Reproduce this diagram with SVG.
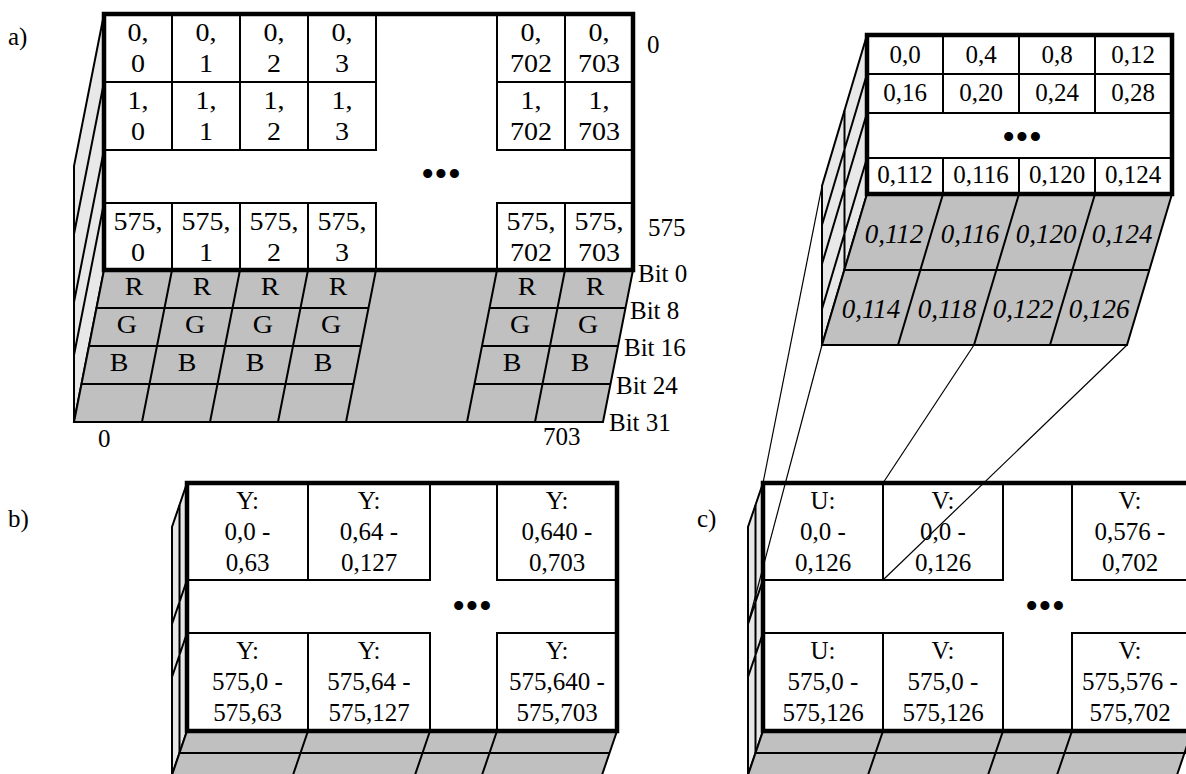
<svg xmlns="http://www.w3.org/2000/svg" width="1186" height="774" viewBox="0 0 1186 774">
<style>
.t{font-family:"Liberation Serif","Times New Roman",serif;font-size:25px;text-anchor:middle;fill:#000}
.it{font-style:italic;font-size:27px}
.st{text-anchor:start}
.sx{transform-box:fill-box;transform-origin:center;transform:scaleX(1.12)}
.dots{font-size:38px}
.cell{fill:#fff;stroke:#000;stroke-width:2}
.frame{fill:none;stroke:#000;stroke-width:4.5}
.gray{fill:#c0c0c0;stroke:#000;stroke-width:2;stroke-linejoin:miter}
.side{fill:#e8e8e8;stroke:#000;stroke-width:2}
.ln{stroke:#000;stroke-width:2;fill:none}
.thin{stroke:#000;stroke-width:1.2;fill:none}
</style>
<rect width="1186" height="774" fill="#fff"/>

<!-- Labels -->
<g id="labels">
<text class="t st" x="8" y="45">a)</text>
<text class="t st" x="8" y="527">b)</text>
<text class="t st" x="697" y="527">c)</text>
<text class="t st" x="647" y="53">0</text>
<text class="t st" x="648" y="236">575</text>
<text class="t st" x="638" y="282">Bit 0</text>
<text class="t st" x="630" y="319">Bit 8</text>
<text class="t st" x="624" y="356">Bit 16</text>
<text class="t st" x="616" y="394">Bit 24</text>
<text class="t st" x="609" y="431">Bit 31</text>
<text class="t st" x="98" y="447">0</text>
<text class="t st" x="543" y="445">703</text>
</g>

<!-- Panel a -->
<g id="panel-a">
<g id="a-side">
<polygon class="side" points="104,14 104,270 74,422 74,166"/>
<path class="ln" d="M104,82 L74,234 M104,150 L74,302 M104,203 L74,355"/>
</g>
<g id="a-bottom">
<polygon class="gray" points="104,270 633,270 603,422 74,422"/>
<path class="ln" d="M172,270 L142,422 M240,270 L210,422 M308,270 L278,422 M376,270 L346,422 M497,270 L467,422 M565,270 L535,422"/>
<path class="ln" d="M96.5,308 L368.5,308 M89,346 L361,346 M81.5,384 L353.5,384 M489.5,308 L625.5,308 M482,346 L618,346 M474.5,384 L610.5,384"/>
<g class="rgb">
<text class="t sx" x="134" y="295">R</text><text class="t sx" x="202" y="295">R</text><text class="t sx" x="270" y="295">R</text><text class="t sx" x="338" y="295">R</text><text class="t sx" x="527" y="295">R</text><text class="t sx" x="595" y="295">R</text>
<text class="t sx" x="127" y="333">G</text><text class="t sx" x="195" y="333">G</text><text class="t sx" x="263" y="333">G</text><text class="t sx" x="331" y="333">G</text><text class="t sx" x="520" y="333">G</text><text class="t sx" x="588" y="333">G</text>
<text class="t sx" x="119" y="371">B</text><text class="t sx" x="187" y="371">B</text><text class="t sx" x="255" y="371">B</text><text class="t sx" x="323" y="371">B</text><text class="t sx" x="512" y="371">B</text><text class="t sx" x="580" y="371">B</text>
</g>
</g>
<g id="a-front">
<rect x="104" y="14" width="529" height="256" fill="#fff"/>
<g id="a-c0-0"><rect class="cell" x="104" y="14" width="68" height="68"/><text class="t sx" x="138" y="41">0,</text><text class="t sx" x="138" y="72">0</text></g>
<g id="a-c0-1"><rect class="cell" x="172" y="14" width="68" height="68"/><text class="t sx" x="206" y="41">0,</text><text class="t sx" x="206" y="72">1</text></g>
<g id="a-c0-2"><rect class="cell" x="240" y="14" width="68" height="68"/><text class="t sx" x="274" y="41">0,</text><text class="t sx" x="274" y="72">2</text></g>
<g id="a-c0-3"><rect class="cell" x="308" y="14" width="68" height="68"/><text class="t sx" x="342" y="41">0,</text><text class="t sx" x="342" y="72">3</text></g>
<g id="a-c0-702"><rect class="cell" x="497" y="14" width="68" height="68"/><text class="t sx" x="531" y="41">0,</text><text class="t sx" x="531" y="72">702</text></g>
<g id="a-c0-703"><rect class="cell" x="565" y="14" width="68" height="68"/><text class="t sx" x="599" y="41">0,</text><text class="t sx" x="599" y="72">703</text></g>
<g id="a-c1-0"><rect class="cell" x="104" y="82" width="68" height="68"/><text class="t sx" x="138" y="109">1,</text><text class="t sx" x="138" y="140">0</text></g>
<g id="a-c1-1"><rect class="cell" x="172" y="82" width="68" height="68"/><text class="t sx" x="206" y="109">1,</text><text class="t sx" x="206" y="140">1</text></g>
<g id="a-c1-2"><rect class="cell" x="240" y="82" width="68" height="68"/><text class="t sx" x="274" y="109">1,</text><text class="t sx" x="274" y="140">2</text></g>
<g id="a-c1-3"><rect class="cell" x="308" y="82" width="68" height="68"/><text class="t sx" x="342" y="109">1,</text><text class="t sx" x="342" y="140">3</text></g>
<g id="a-c1-702"><rect class="cell" x="497" y="82" width="68" height="68"/><text class="t sx" x="531" y="109">1,</text><text class="t sx" x="531" y="140">702</text></g>
<g id="a-c1-703"><rect class="cell" x="565" y="82" width="68" height="68"/><text class="t sx" x="599" y="109">1,</text><text class="t sx" x="599" y="140">703</text></g>
<g id="a-c575-0"><rect class="cell" x="104" y="203" width="68" height="67"/><text class="t sx" x="138" y="230">575,</text><text class="t sx" x="138" y="261">0</text></g>
<g id="a-c575-1"><rect class="cell" x="172" y="203" width="68" height="67"/><text class="t sx" x="206" y="230">575,</text><text class="t sx" x="206" y="261">1</text></g>
<g id="a-c575-2"><rect class="cell" x="240" y="203" width="68" height="67"/><text class="t sx" x="274" y="230">575,</text><text class="t sx" x="274" y="261">2</text></g>
<g id="a-c575-3"><rect class="cell" x="308" y="203" width="68" height="67"/><text class="t sx" x="342" y="230">575,</text><text class="t sx" x="342" y="261">3</text></g>
<g id="a-c575-702"><rect class="cell" x="497" y="203" width="68" height="67"/><text class="t sx" x="531" y="230">575,</text><text class="t sx" x="531" y="261">702</text></g>
<g id="a-c575-703"><rect class="cell" x="565" y="203" width="68" height="67"/><text class="t sx" x="599" y="230">575,</text><text class="t sx" x="599" y="261">703</text></g>
<text class="t dots" x="441" y="187">•••</text>
<rect class="frame" x="104" y="14" width="529" height="256"/>
</g>
</g>

<!-- Panel zoom (top right) -->
<g id="panel-detail">
<g id="d-side">
<polygon class="side" points="867,35 867,194 822,345 822,186"/>
<path class="ln" d="M867,74 L822,225 M867,113 L822,264 M867,158 L822,309 M844.5,110.5 L844.5,270"/>
</g>
<g id="d-bottom">
<polygon class="gray" points="867,194 1172,194 1127,345 822,345"/>
<path class="ln" d="M844.5,270 L1149.5,270 M943,194 L898,345 M1019,194 L974,345 M1095,194 L1050,345"/>
<text class="t it" x="894" y="243">0,112</text><text class="t it" x="970" y="243">0,116</text><text class="t it" x="1046" y="243">0,120</text><text class="t it" x="1122" y="243">0,124</text>
<text class="t it" x="871" y="318">0,114</text><text class="t it" x="947" y="318">0,118</text><text class="t it" x="1023" y="318">0,122</text><text class="t it" x="1099" y="318">0,126</text>
</g>
<g id="d-front">
<rect x="867" y="35" width="305" height="159" fill="#fff"/>
<g id="d-c0"><rect class="cell" x="867" y="35" width="76" height="39"/><text class="t" x="905" y="63">0,0</text></g>
<g id="d-c4"><rect class="cell" x="943" y="35" width="76" height="39"/><text class="t" x="981" y="63">0,4</text></g>
<g id="d-c8"><rect class="cell" x="1019" y="35" width="76" height="39"/><text class="t" x="1057" y="63">0,8</text></g>
<g id="d-c12"><rect class="cell" x="1095" y="35" width="77" height="39"/><text class="t" x="1133" y="63">0,12</text></g>
<g id="d-c16"><rect class="cell" x="867" y="74" width="76" height="39"/><text class="t" x="905" y="101">0,16</text></g>
<g id="d-c20"><rect class="cell" x="943" y="74" width="76" height="39"/><text class="t" x="981" y="101">0,20</text></g>
<g id="d-c24"><rect class="cell" x="1019" y="74" width="76" height="39"/><text class="t" x="1057" y="101">0,24</text></g>
<g id="d-c28"><rect class="cell" x="1095" y="74" width="77" height="39"/><text class="t" x="1133" y="101">0,28</text></g>
<g id="d-c112"><rect class="cell" x="867" y="158" width="76" height="36"/><text class="t" x="905" y="183">0,112</text></g>
<g id="d-c116"><rect class="cell" x="943" y="158" width="76" height="36"/><text class="t" x="981" y="183">0,116</text></g>
<g id="d-c120"><rect class="cell" x="1019" y="158" width="76" height="36"/><text class="t" x="1057" y="183">0,120</text></g>
<g id="d-c124"><rect class="cell" x="1095" y="158" width="77" height="36"/><text class="t" x="1133" y="183">0,124</text></g>
<text class="t dots" x="1022" y="150">•••</text>
<rect class="frame" x="867" y="35" width="305" height="159"/>
</g>
</g>

<!-- Panel b -->
<g id="panel-b">
<g id="b-side">
<polygon class="side" points="187,483 187,731 172,775 172,527"/>
<path class="ln" d="M187,580 L172,624 M187,633 L172,677 M179.5,505 L179.5,753"/>
</g>
<g id="b-bottom">
<polygon class="gray" points="187,731 617,731 602,775 172,775"/>
<path class="ln" d="M179.5,753 L609.5,753 M308,731 L293,775 M430,731 L415,775 M497,731 L482,775"/>
</g>
<g id="b-front">
<rect x="187" y="483" width="430" height="248" fill="#fff"/>
<g id="b-y0"><rect class="cell" x="187" y="483" width="121" height="97"/><text class="t" x="247.5" y="509">Y:</text><text class="t" x="247.5" y="540">0,0 -</text><text class="t" x="247.5" y="571">0,63</text></g>
<g id="b-y1"><rect class="cell" x="308" y="483" width="122" height="97"/><text class="t" x="369" y="509">Y:</text><text class="t" x="369" y="540">0,64 -</text><text class="t" x="369" y="571">0,127</text></g>
<g id="b-y2"><rect class="cell" x="497" y="483" width="120" height="97"/><text class="t" x="557" y="509">Y:</text><text class="t" x="557" y="540">0,640 -</text><text class="t" x="557" y="571">0,703</text></g>
<g id="b-y3"><rect class="cell" x="187" y="633" width="121" height="98"/><text class="t" x="247.5" y="659">Y:</text><text class="t" x="247.5" y="690">575,0 -</text><text class="t" x="247.5" y="721">575,63</text></g>
<g id="b-y4"><rect class="cell" x="308" y="633" width="122" height="98"/><text class="t" x="369" y="659">Y:</text><text class="t" x="369" y="690">575,64 -</text><text class="t" x="369" y="721">575,127</text></g>
<g id="b-y5"><rect class="cell" x="497" y="633" width="120" height="98"/><text class="t" x="557" y="659">Y:</text><text class="t" x="557" y="690">575,640 -</text><text class="t" x="557" y="721">575,703</text></g>
<text class="t dots" x="472" y="619">•••</text>
<rect class="frame" x="187" y="483" width="430" height="248"/>
</g>
</g>

<!-- Panel c -->
<g id="panel-c">
<g id="c-side">
<polygon class="side" points="763,483 763,731 748,775 748,527"/>
<path class="ln" d="M763,580 L748,624 M763,633 L748,677 M755.5,505 L755.5,753"/>
</g>
<g id="c-bottom">
<polygon class="gray" points="763,731 1192,731 1177,775 748,775"/>
<path class="ln" d="M755.5,753 L1190,753 M883,731 L868,775 M1003,731 L988,775 M1072,731 L1057,775"/>
</g>
<g id="c-front">
<rect x="763" y="483" width="429" height="248" fill="#fff"/>
<g id="c-u0"><rect class="cell" x="763" y="483" width="120" height="97"/><text class="t" x="823" y="509">U:</text><text class="t" x="823" y="540">0,0 -</text><text class="t" x="823" y="571">0,126</text></g>
<g id="c-v0"><rect class="cell" x="883" y="483" width="120" height="97"/><text class="t" x="943" y="509">V:</text><text class="t" x="943" y="540">0,0 -</text><text class="t" x="943" y="571">0,126</text></g>
<g id="c-v1"><rect class="cell" x="1072" y="483" width="120" height="97"/><text class="t" x="1130" y="509">V:</text><text class="t" x="1130" y="540">0,576 -</text><text class="t" x="1130" y="571">0,702</text></g>
<g id="c-u2"><rect class="cell" x="763" y="633" width="120" height="98"/><text class="t" x="823" y="659">U:</text><text class="t" x="823" y="690">575,0 -</text><text class="t" x="823" y="721">575,126</text></g>
<g id="c-v2"><rect class="cell" x="883" y="633" width="120" height="98"/><text class="t" x="943" y="659">V:</text><text class="t" x="943" y="690">575,0 -</text><text class="t" x="943" y="721">575,126</text></g>
<g id="c-v3"><rect class="cell" x="1072" y="633" width="120" height="98"/><text class="t" x="1130" y="659">V:</text><text class="t" x="1130" y="690">575,576 -</text><text class="t" x="1130" y="721">575,702</text></g>
<text class="t dots" x="1045" y="619">•••</text>
<rect class="frame" x="763" y="483" width="429" height="248"/>
</g>
</g>

<!-- Connectors -->
<g id="connectors">
<path class="thin" d="M822,186 L763,483"/>
<path class="thin" d="M822,345 L748,624"/>
<path class="thin" d="M974,345 L883,483"/>
<path class="thin" d="M1127,345 L883,580"/>
</g>
</svg>
